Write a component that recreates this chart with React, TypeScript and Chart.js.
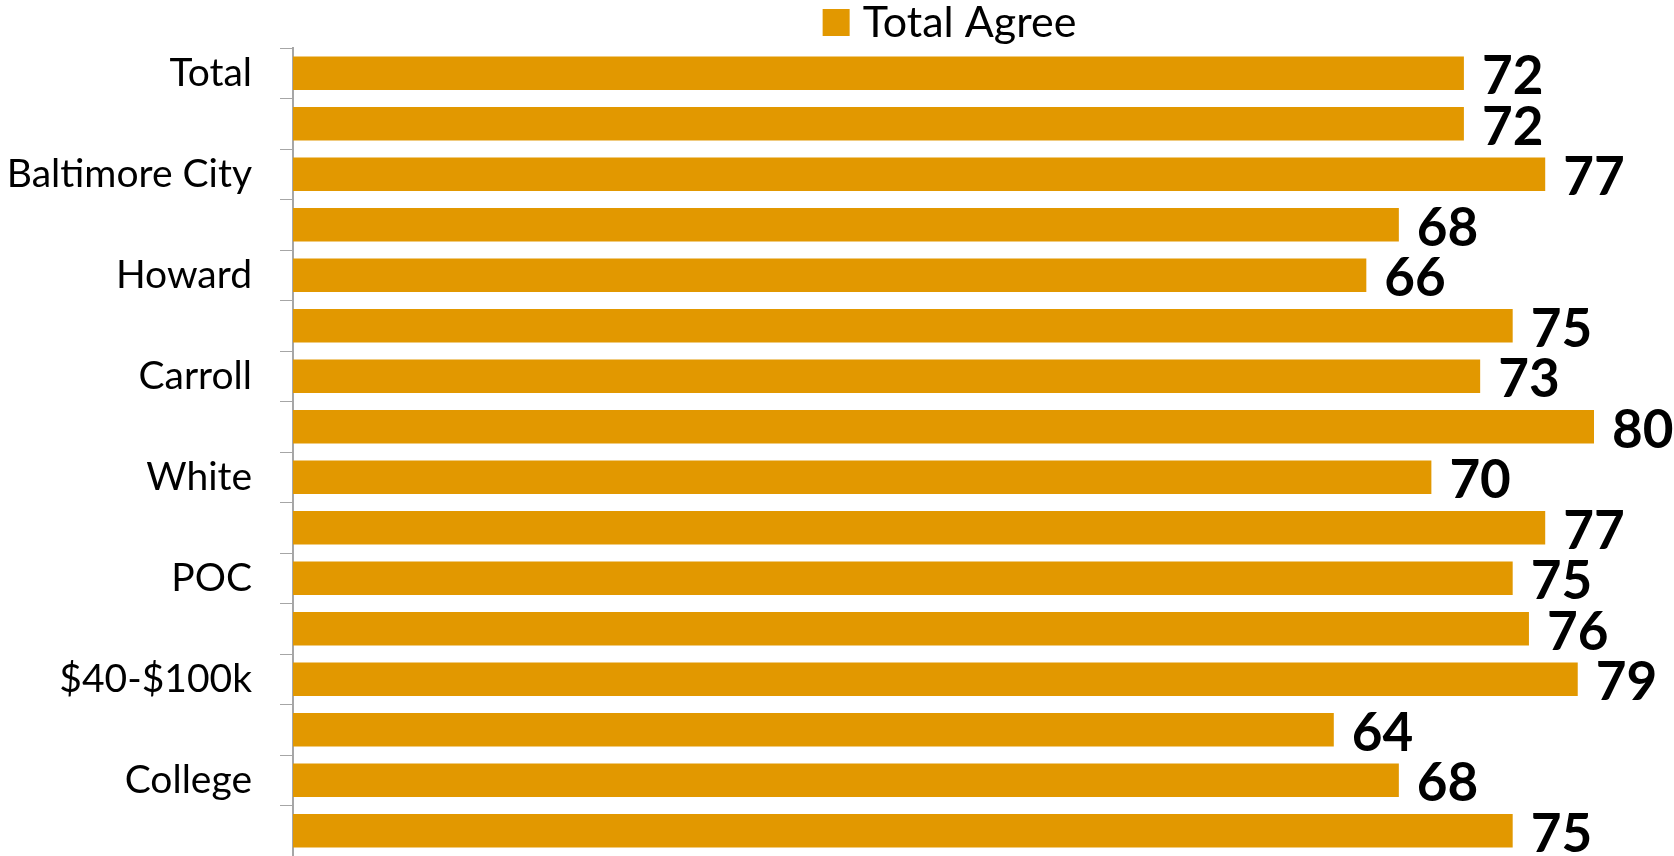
import React, { useEffect, useRef } from "react";
import { Chart, registerables } from "chart.js";

Chart.register(...registerables);

const categories = [
  "Total",
  "Baltimore County",
  "Baltimore City",
  "Anne Arundel",
  "Howard",
  "Harford",
  "Carroll",
  "Black",
  "White",
  "Hispanic",
  "POC",
  "Under $40k",
  "$40-$100k",
  "Over $100k",
  "College",
  "No College",
];

const totalAgree = [72, 72, 77, 68, 66, 75, 73, 80, 70, 77, 75, 76, 79, 64, 68, 75];

const seriesName = "Total Agree";
const barColor = "#E29800";
const axisColor = "#A6A6A6";

const valueLabels = {
  id: "valueLabels",
  afterDatasetsDraw(chart: any) {
    const ctx = chart.ctx;
    const meta = chart.getDatasetMeta(0);
    const data = chart.data.datasets[0].data;
    ctx.save();
    ctx.font = "bold 53px Lato";
    ctx.fillStyle = "#000000";
    ctx.textAlign = "left";
    ctx.textBaseline = "alphabetic";
    meta.data.forEach((bar: any, i: number) => {
      ctx.fillText(String(data[i]), bar.x + 18, bar.y + 21);
    });
    ctx.restore();
  },
};

const topLegend = {
  id: "topLegend",
  afterDraw(chart: any) {
    const ctx = chart.ctx;
    const ds = chart.data.datasets[0];
    const area = chart.chartArea;
    ctx.save();
    ctx.font = "43px Lato";
    const tw = ctx.measureText(ds.label).width;
    const box = 27;
    const gap = 13;
    const total = box + gap + tw;
    const cx = (area.left + area.right) / 2 + 6;
    const x0 = cx - total / 2;
    ctx.fillStyle = ds.backgroundColor;
    ctx.fillRect(x0, 9, box, box);
    ctx.fillStyle = "#000000";
    ctx.textAlign = "left";
    ctx.textBaseline = "alphabetic";
    ctx.fillText(ds.label, x0 + box + gap, 37);
    ctx.restore();
  },
};

export default function App() {
  const ref = useRef<HTMLCanvasElement | null>(null);

  useEffect(() => {
    if (!ref.current) return;
    const chart = new Chart(ref.current, {
      type: "bar",
      data: {
        labels: categories,
        datasets: [
          {
            label: seriesName,
            data: totalAgree,
            backgroundColor: barColor,
            borderWidth: 0,
            categoryPercentage: 1,
            barPercentage: 0.66,
          },
        ],
      },
      options: {
        indexAxis: "y",
        animation: false,
        responsive: true,
        maintainAspectRatio: false,
        layout: { padding: { top: 48, right: 80, bottom: 0, left: 0 } },
        plugins: {
          legend: { display: false },
          tooltip: { enabled: false },
        },
        scales: {
          x: {
            display: false,
            min: 0,
            max: 80,
          },
          y: {
            afterFit: (s: any) => {
              s.width = 293;
              s.paddingTop = 0;
              s.paddingBottom = 0;
            },
            grid: {
              display: true,
              drawOnChartArea: false,
              drawTicks: true,
              tickLength: 13,
              color: axisColor,
              offset: true,
            },
            border: { display: true, color: axisColor, width: 2 },
            ticks: {
              autoSkip: false,
              padding: 28,
              color: "#000000",
              font: { family: "Lato", size: 39 },
              callback: (_v: any, i: number) => (i % 2 === 0 ? categories[i] : ""),
            },
          },
        },
      },
      plugins: [valueLabels, topLegend],
    });
    return () => chart.destroy();
  }, []);

  return (
    <div style={{ position: "fixed", left: 0, top: 0, width: 1674, height: 856, background: "#fff" }}>
      <canvas ref={ref} />
    </div>
  );
}
